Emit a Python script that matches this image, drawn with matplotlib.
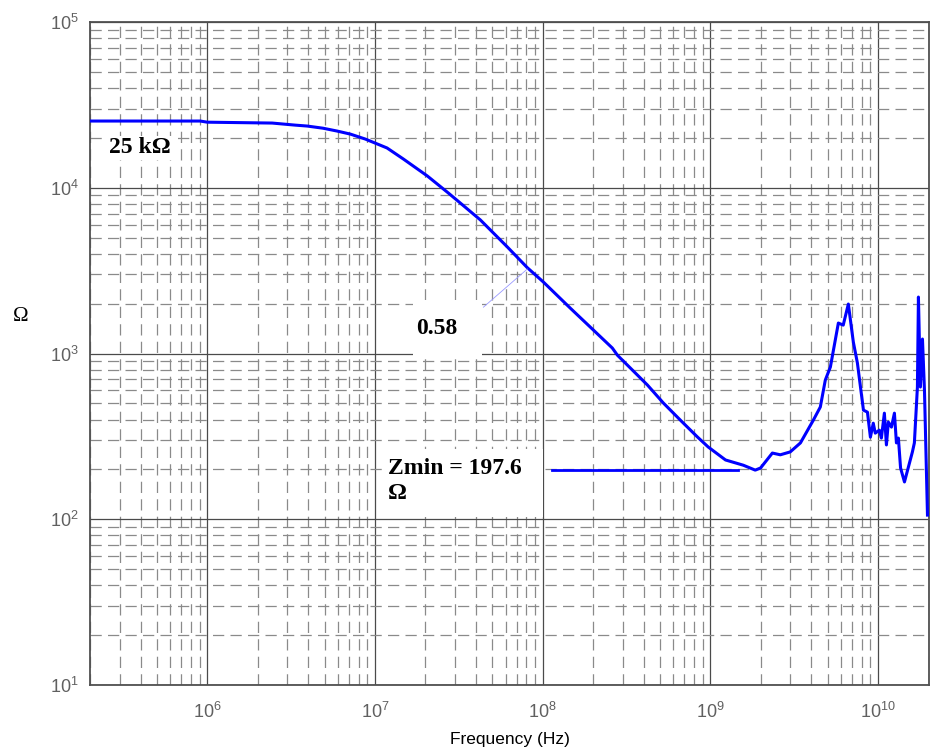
import numpy as np
import matplotlib
matplotlib.use('Agg')
import matplotlib.pyplot as plt
from matplotlib.ticker import LogLocator, NullFormatter
from matplotlib.patches import Rectangle

# impedance curve
freq = [2.0e5, 9.08e5, 1.0e6, 2.44e6, 3.35e6, 3.94e6, 4.90e6, 5.96e6, 7.13e6, 8.75e6,
        1.005e7, 1.18e7, 1.48e7, 2.05e7, 2.74e7, 3.09e7, 4.25e7, 6.15e7, 8.09e7,
        1.01e8, 1.46e8, 2.00e8, 2.60e8, 2.79e8, 3.33e8, 4.21e8, 5.24e8, 6.61e8,
        8.36e8, 9.70e8, 1.23e9, 1.57e9, 1.85e9, 1.99e9, 2.34e9, 2.61e9, 2.99e9,
        3.44e9, 4.11e9, 4.52e9, 4.84e9, 5.19e9, 5.79e9, 6.19e9, 6.64e9, 7.11e9,
        7.52e9, 8.17e9, 8.63e9, 8.99e9, 9.35e9, 9.61e9, 1.016e10, 1.045e10,
        1.089e10, 1.12e10, 1.15e10, 1.20e10, 1.25e10, 1.285e10, 1.32e10, 1.36e10,
        1.435e10, 1.60e10, 1.644e10, 1.714e10, 1.738e10, 1.786e10, 1.837e10,
        1.888e10, 1.968e10]
z = [25300, 25300, 24900, 24600, 23900, 23600, 22900, 22000, 21100, 19700,
     18600, 17400, 14900, 11800, 9300, 8400, 6400, 4400, 3300,
     2700, 1880, 1390, 1080, 977, 818, 646, 503, 397,
     314, 273, 228, 212, 198, 204, 251, 245, 255,
     289, 397, 476, 692, 830, 1528, 1485, 1990, 1175,
     877, 456, 443, 313, 380, 331, 345, 309,
     437, 281, 386, 360, 437, 289, 309, 204,
     168, 255, 289, 628, 2193, 628, 1224,
     603, 106]

zmin = 197.6
zmin_span = [1.14e8, 1.45e9]
slope_f = [4.43e7, 8.09e7]
slope_z = [1905, 3236]

sans = ['Liberation Sans', 'DejaVu Sans']
serif = ['Liberation Serif', 'DejaVu Serif']

fig = plt.figure(figsize=(9.32, 7.55), dpi=100)
ax = fig.add_axes([0.0966, 0.0927, 0.9002, 0.878])

ax.set_xscale('log')
ax.set_yscale('log')
ax.set_xlim(2.0e5, 2.01e10)
ax.set_ylim(10, 1e5)

for a in (ax.xaxis, ax.yaxis):
    a.set_major_locator(LogLocator(base=10, numticks=20))
    a.set_minor_locator(LogLocator(base=10, subs=np.arange(2, 10), numticks=200))
    a.set_minor_formatter(NullFormatter())

ax.set_axisbelow(True)
ax.grid(which='major', color='#4a4a4a', linestyle='-', linewidth=0.9)
ax.grid(which='minor', color='#8a8a8a', linestyle=(0, (9, 5)), linewidth=0.9)
ax.tick_params(which='both', length=0, colors='#606060')
ax.tick_params(axis='x', pad=12)
ax.tick_params(axis='y', pad=8)
for lab in ax.get_xticklabels() + ax.get_yticklabels():
    lab.set_family(sans)
    lab.set_fontsize(13)
for s in ax.spines.values():
    s.set_color('#505050')
    s.set_linewidth(1.3)

# white boxes behind the annotations
ax.add_patch(Rectangle((1.69e7, 966), 4.37e7 - 1.69e7, 2100 - 966,
                       facecolor='white', edgecolor='none', zorder=1))
ax.add_patch(Rectangle((1.18e7, 103), 1.0e8 - 1.18e7, 265 - 103,
                       facecolor='white', edgecolor='none', zorder=1))

ax.plot(freq, z, color='#0000ff', linewidth=2.2, zorder=3)
ax.plot(zmin_span, [zmin, zmin], color='#0000ff', linewidth=2.0, zorder=3)
ax.plot(slope_f, slope_z, color='#9999ff', linewidth=0.6, zorder=3)

ax.text(2.6e5, 17400, '25 k\u03a9', family=serif, fontweight='bold', fontsize=17,
        va='center', ha='left', zorder=4,
        bbox=dict(facecolor='white', edgecolor='none', pad=1))
ax.text(1.75e7, 1425, '0.58', family=serif, fontweight='bold', fontsize=17,
        va='center', ha='left', zorder=4)
ax.text(1.2e7, 233, 'Zmin = 197.6\n\u03a9', family=serif, fontweight='bold',
        fontsize=17, va='top', ha='left', linespacing=1.25, zorder=4)

ax.set_xlabel('Frequency (Hz)', family=sans, fontsize=12.5, labelpad=7)
fig.text(0.022, 0.581, '\u03a9', family=serif, fontsize=15, ha='center', va='center')

fig.savefig('out.png', dpi=100)
